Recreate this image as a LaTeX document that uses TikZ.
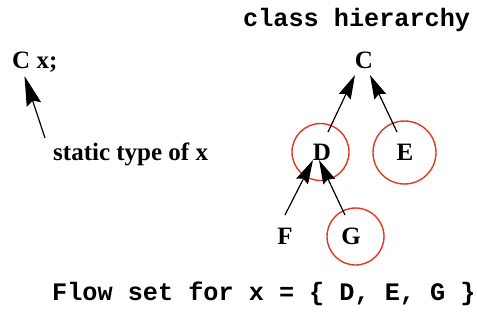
\documentclass[tikz,border=0pt]{standalone}
\usepackage{fontspec}
\setmainfont{Liberation Serif}
\setmonofont{Liberation Mono}
\usetikzlibrary{arrows.meta}
\definecolor{ringred}{RGB}{228,55,35}
\tikzset{
  lbl/.style={font=\fontsize{25}{30}\selectfont\bfseries, inner sep=0pt},
  mono/.style={font=\fontsize{25.2}{30}\selectfont\ttfamily\bfseries, inner sep=0pt},
  ring/.style={circle, draw=ringred, line width=1.4pt, inner sep=0pt},
  arr/.style={line width=1.2pt, -{Stealth[length=24pt,width=13pt,inset=3pt]}},
  bigarr/.style={line width=1.2pt, -{Stealth[length=30pt,width=15pt,inset=4pt]}}
}
\begin{document}
\begin{tikzpicture}[x=1pt,y=-1pt]
\useasboundingbox (0,0) rectangle (477,332);
% left side
\node[lbl, anchor=base west] (decl) at (12,68) {C x;};
\node[lbl, anchor=base west] (stat) at (53,160) {static type of x};
\coordinate (sTail) at (45,138);
\coordinate (sTip) at (24.5,76);
\draw[bigarr] (sTail) -- (sTip);
% hierarchy
\node[mono, anchor=base west] (title) at (243,26) {class hierarchy};
\node[lbl, anchor=base] (C) at (364,68) {C};
\node[lbl, anchor=base] (D) at (322,160) {D};
\node[lbl, anchor=base] (E) at (405,160) {E};
\node[lbl, anchor=base] (F) at (285,244) {F};
\node[lbl, anchor=base] (G) at (351,244) {G};
\node[ring, minimum size=57pt] (rD) at (320.5,152) {};
\node[ring, minimum size=63pt] (rE) at (404.5,152.5) {};
\node[ring, minimum size=57pt] (rG) at (355.5,236.5) {};
\coordinate (dTail) at (328,132);
\coordinate (cTipL) at (355,75);
\coordinate (eTail) at (397,132);
\coordinate (cTipR) at (370,75);
\coordinate (fTail) at (285,215);
\coordinate (dTipL) at (313,160);
\coordinate (gTail) at (345,215);
\coordinate (dTipR) at (319,160);
\draw[arr] (dTail) -- (cTipL);
\draw[arr] (eTail) -- (cTipR);
\draw[arr] (fTail) -- (dTipL);
\draw[arr] (gTail) -- (dTipR);
% bottom
\node[mono, anchor=base west] (flow) at (52,300) {Flow set for x = \{ D, E, G \}};
\end{tikzpicture}
\end{document}
